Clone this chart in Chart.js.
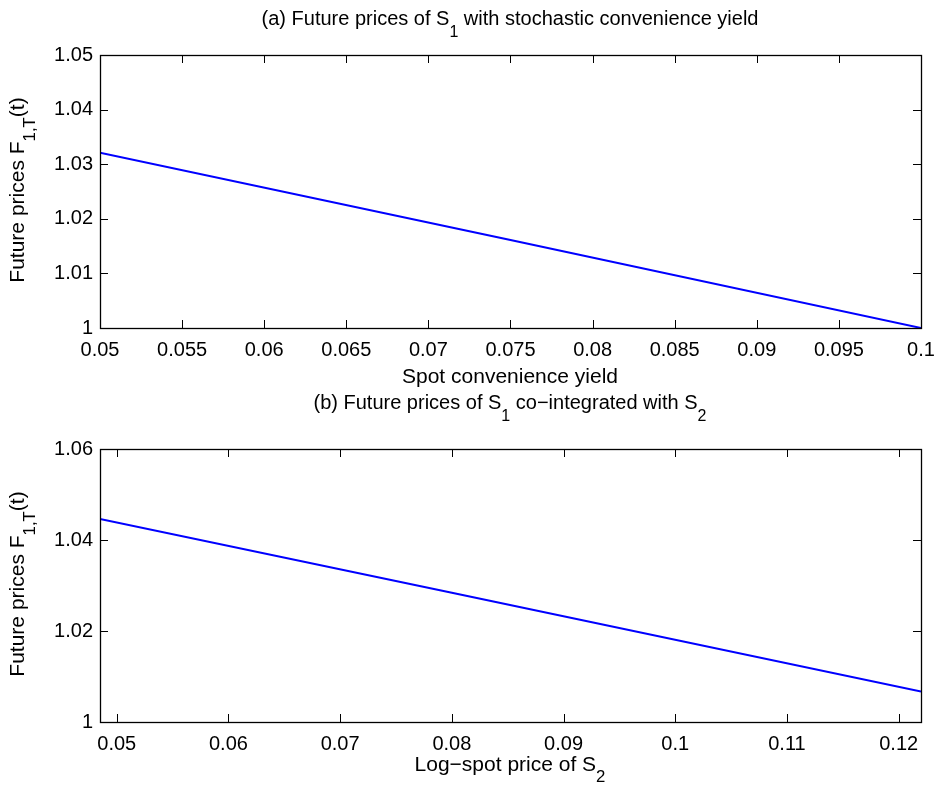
<!DOCTYPE html>
<html>
<head>
<meta charset="utf-8">
<script src="https://cdn.jsdelivr.net/npm/chart.js@4"></script>
<style>
  html, body { margin: 0; padding: 0; background: #fff; }
  #wrap { position: relative; width: 936px; height: 787px; font-family: 'Liberation Sans', Arial, sans-serif; color: #000; }
  canvas { position: absolute; left: 0; }
  .txt { position: absolute; white-space: nowrap; font-size: 20px; line-height: 1; }
  .lab { font-size: 21px; }
  .center { transform: translate(-50%, -50%); }
  .ylab { transform: translate(-50%, -50%) rotate(-90deg); }
  sub { font-size: 0.8em; vertical-align: -0.7em; line-height: 0; }
</style>
</head>
<body>
<div id="wrap">
  <canvas id="chartA" width="936" height="390" style="top:0"></canvas>
  <canvas id="chartB" width="936" height="397" style="top:390px"></canvas>

  <div class="txt center" style="left:510px; top:20px">(a) Future prices of S<sub>1</sub> with stochastic convenience yield</div>
  <div class="txt lab center" style="left:510px; top:375px">Spot convenience yield</div>
  <div class="txt lab ylab" style="left:18px; top:190px">Future prices F<sub>1,T</sub>(t)</div>

  <div class="txt center" style="left:510px; top:404px">(b) Future prices of S<sub>1</sub> co&minus;integrated with S<sub>2</sub></div>
  <div class="txt lab center" style="left:510px; top:765px">Log&minus;spot price of S<sub>2</sub></div>
  <div class="txt lab ylab" style="left:18px; top:584px">Future prices F<sub>1,T</sub>(t)</div>
</div>

<script>
// (a) futures vs spot convenience yield
const convYield = [0.05, 0.075, 0.1];
const futuresA = [1.0321, 1.0161, 1.0];
const xTicksA = [0.05, 0.055, 0.06, 0.065, 0.07, 0.075, 0.08, 0.085, 0.09, 0.095, 0.1];
const yTicksA = [1, 1.01, 1.02, 1.03, 1.04, 1.05];

// (b) futures vs log-spot price of S2
const logSpot = [0.0485, 0.08, 0.122];
const futuresB = [1.0446, 1.0284, 1.0067];
const xTicksB = [0.05, 0.06, 0.07, 0.08, 0.09, 0.1, 0.11, 0.12];
const yTicksB = [1, 1.02, 1.04, 1.06];

Chart.defaults.font.family = "'Liberation Sans', Arial, sans-serif";
Chart.defaults.font.size = 20;
Chart.defaults.color = '#000';

const fmtTick = v => String(Number(Number(v).toFixed(4)));

// box round the plot, ticks pointing inward on all four sides
const boxTicks = {
  id: 'boxTicks',
  afterDraw(chart) {
    const { ctx, chartArea: a, scales } = chart;
    const len = 8;
    ctx.save();
    ctx.strokeStyle = '#000';
    ctx.lineWidth = 1;
    ctx.beginPath();
    scales.x.ticks.forEach(t => {
      const px = Math.round(scales.x.getPixelForValue(t.value)) + 0.5;
      ctx.moveTo(px, a.bottom); ctx.lineTo(px, a.bottom - len);
      ctx.moveTo(px, a.top); ctx.lineTo(px, a.top + len);
    });
    scales.y.ticks.forEach(t => {
      const py = Math.round(scales.y.getPixelForValue(t.value)) + 0.5;
      ctx.moveTo(a.left, py); ctx.lineTo(a.left + len, py);
      ctx.moveTo(a.right, py); ctx.lineTo(a.right - len, py);
    });
    ctx.stroke();
    ctx.lineWidth = 1.3;
    ctx.strokeRect(Math.round(a.left) + 0.5, Math.round(a.top) + 0.5, Math.round(a.right - a.left), Math.round(a.bottom - a.top));
    ctx.restore();
  },
};

function makeChart(id, xs, ys, xTicks, yTicks, xMin, xMax, yMin, yMax, padTop, xAxisHeight) {
  return new Chart(document.getElementById(id), {
    type: 'line',
    data: {
      datasets: [{
        data: xs.map((x, i) => ({ x, y: ys[i] })),
        borderColor: '#0000ff',
        borderWidth: 2,
        pointRadius: 0,
        tension: 0,
      }],
    },
    options: {
      responsive: false,
      animation: false,
      devicePixelRatio: 1,
      layout: { padding: { top: padTop, right: 15, left: 0, bottom: 0 } },
      plugins: { legend: { display: false }, tooltip: { enabled: false } },
      scales: {
        x: {
          type: 'linear',
          min: xMin,
          max: xMax,
          grid: { display: false, drawTicks: false },
          border: { display: false },
          ticks: { padding: 10, maxRotation: 0, autoSkip: false, callback: fmtTick },
          afterBuildTicks: scale => { scale.ticks = xTicks.map(value => ({ value })); },
          afterFit: scale => {
            scale.height = xAxisHeight;
            scale.paddingLeft = 0;
            scale.paddingRight = 0;
          },
        },
        y: {
          type: 'linear',
          min: yMin,
          max: yMax,
          grid: { display: false, drawTicks: false },
          border: { display: false },
          ticks: { padding: 7, autoSkip: false, callback: fmtTick },
          afterBuildTicks: scale => { scale.ticks = yTicks.map(value => ({ value })); },
          afterFit: scale => {
            scale.width = 100;
            scale.paddingTop = 0;
            scale.paddingBottom = 0;
          },
        },
      },
    },
    plugins: [boxTicks],
  });
}

makeChart('chartA', convYield, futuresA, xTicksA, yTicksA, 0.05, 0.1, 1, 1.05, 55, 62);
makeChart('chartB', logSpot, futuresB, xTicksB, yTicksB, 0.0485, 0.122, 1, 1.06, 59, 65);
</script>
</body>
</html>
